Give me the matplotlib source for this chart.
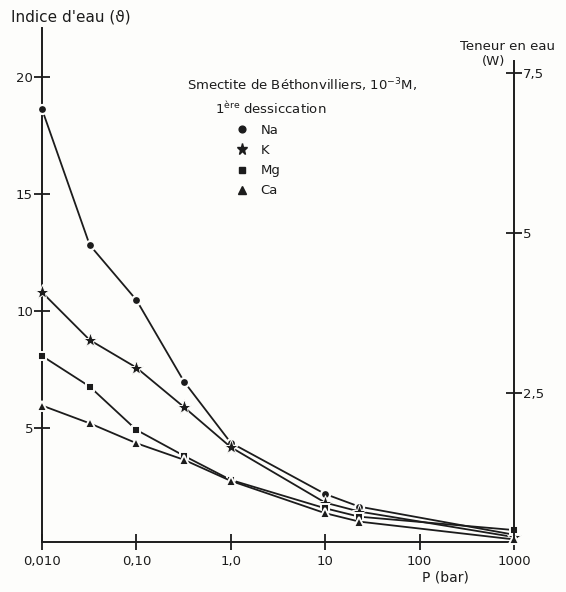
import matplotlib
matplotlib.use("Agg")
import matplotlib.pyplot as plt
from matplotlib.lines import Line2D

plt.rcParams['font.family'] = ['DejaVu Sans']

# pression (bar)
P = [0.01, 0.032, 0.1, 0.32, 1.0, 10, 23, 1000]

# indice d'eau par cation
na = [18.63, 12.83, 10.48, 6.99, 4.38, 2.19, 1.65, 0.45]
k = [10.81, 8.77, 7.59, 5.90, 4.19, 1.82, 1.44, 0.35]
mg = [8.09, 6.78, 4.93, 3.82, 2.79, 1.58, 1.22, 0.65]
ca = [5.97, 5.21, 4.36, 3.65, 2.75, 1.37, 1.01, 0.25]

series = [("Na", na, "o", 6.5, 1.6), ("K", k, "*", 11, 0.7),
          ("Mg", mg, "s", 6, 1.4), ("Ca", ca, "^", 7, 1.4)]

x_ticks = [0.01, 0.1, 1, 10, 100, 1000]
x_labels = ["0,010", "0,10", "1,0", "10", "100", "1000"]
y_ticks = [5, 10, 15, 20]
w_ticks = [2.5, 5, 7.5]
w_labels = ["2,5", "5", "7,5"]

INK = "#1c1c1c"
BG = "#fdfdfb"

fig = plt.figure(figsize=(5.66, 5.92), dpi=100, facecolor=BG)
ax = fig.add_axes([0.0742, 0.0845, 0.8338, 0.8682])
ax.set_facecolor("none")

for name, vals, mk, ms, mew in series:
    ax.plot(P, vals, color=INK, lw=1.3, marker=mk, ms=ms, mfc=INK,
            mec=BG, mew=mew, clip_on=False, zorder=3)

ax.set_xscale("log")
ax.set_xlim(0.01, 1000)
ax.set_ylim(0.14, 22.1)
ax.set_xticks(x_ticks)
ax.set_xticklabels(x_labels)
ax.minorticks_off()
ax.set_yticks(y_ticks)
ax.tick_params(axis="both", direction="inout", length=11, width=1.3,
               colors=INK, labelsize=9.5)
ax.tick_params(axis="x", pad=4)
ax.tick_params(axis="y", pad=1)

for side in ["top", "right"]:
    ax.spines[side].set_visible(False)
for side in ["left", "bottom"]:
    ax.spines[side].set_linewidth(1.4)
    ax.spines[side].set_color(INK)

# axe de droite : teneur en eau
ax2 = ax.twinx()
ax2.set_ylim(0.18, 8.21)
ax2.set_yticks(w_ticks)
ax2.set_yticklabels(w_labels)
ax2.tick_params(axis="y", direction="inout", length=11, width=1.3,
                colors=INK, labelsize=9.5, pad=1)
for side in ["top", "left", "bottom"]:
    ax2.spines[side].set_visible(False)
ax2.spines["right"].set_bounds(0.18, 7.7)
ax2.spines["right"].set_linewidth(1.4)
ax2.spines["right"].set_color(INK)

fig.text(0.02, 0.972, "Indice d'eau (ϑ)", fontsize=11, color=INK, va="center")
fig.text(0.897, 0.921, "Teneur en eau", fontsize=9.5, color=INK, ha="center", va="center")
fig.text(0.872, 0.896, "(W)", fontsize=9.5, color=INK, ha="center", va="center")
fig.text(0.33, 0.856, "Smectite de Béthonvilliers, 10$^{-3}$M,", fontsize=9.5,
         color=INK, va="center")
fig.text(0.38, 0.817, "1$^{\\rm ère}$ dessiccation", fontsize=9.5, color=INK, va="center")
fig.text(0.745, 0.024, "P (bar)", fontsize=10, color=INK, va="center")

handles = [Line2D([], [], ls="none", marker=mk, ms=ms * 0.75, color=INK)
           for name, vals, mk, ms, mew in series]
leg = fig.legend(handles, [s[0] for s in series], loc="upper left",
                 bbox_to_anchor=(0.418, 0.791), frameon=False, fontsize=9.5,
                 handlelength=0.8, handletextpad=1.0, labelspacing=0.55,
                 borderaxespad=0, borderpad=0)
for t in leg.get_texts():
    t.set_color(INK)

fig.savefig("out.png", dpi=100, facecolor=fig.get_facecolor())
